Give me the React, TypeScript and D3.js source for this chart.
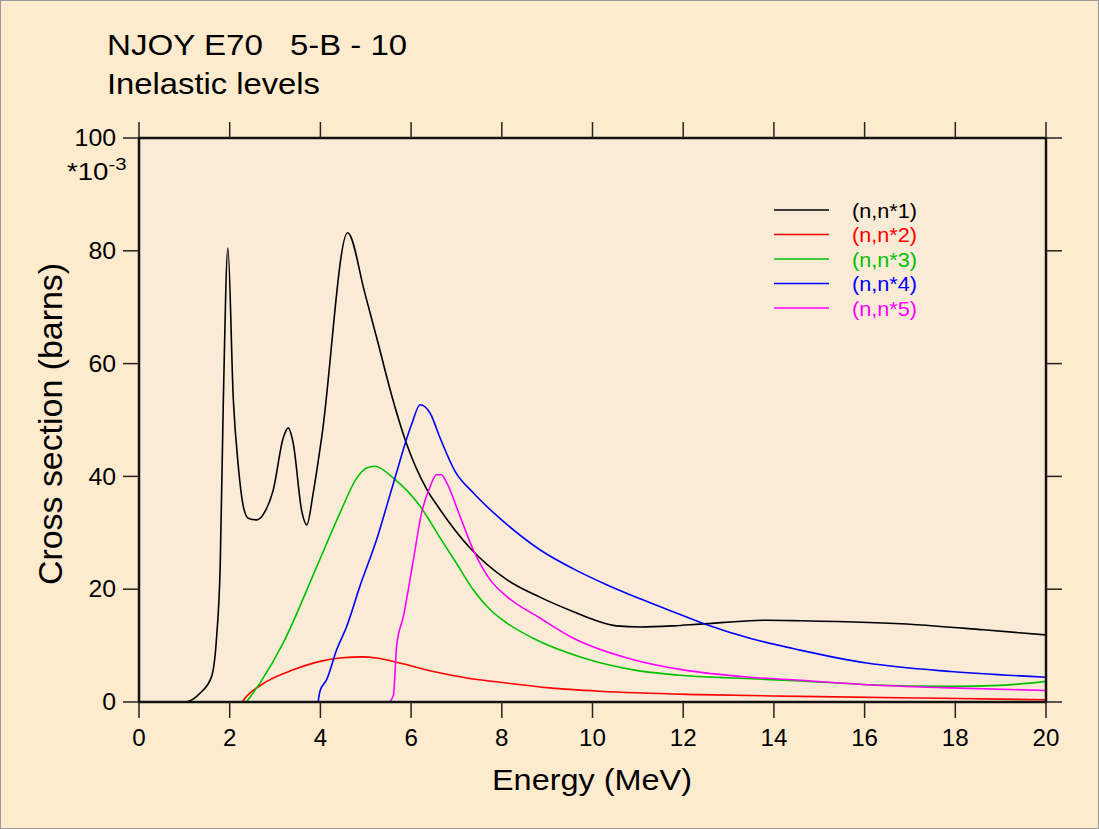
import { useMemo } from "react";
import * as d3 from "d3";

// ── Data (energy in MeV, cross section in 1e-3 barns) ─────────────────────────

const xTicks = [0, 2, 4, 6, 8, 10, 12, 14, 16, 18, 20];
const yTicks = [0, 20, 40, 60, 80, 100];

const level1: [number, number][] = [
  [0, 0], [1.0, 0], [1.35, 1.6], [1.6, 4.5], [1.71, 11.4], [1.79, 24], [1.86, 53.6],
  [1.96, 80.5], [2.08, 53.6], [2.19, 41.8], [2.3, 34.7], [2.41, 32.6], [2.6, 32.3],
  [2.78, 33.8], [2.96, 37.6], [3.18, 46.8], [3.29, 48.6], [3.4, 45.9], [3.59, 33.8],
  [3.7, 31.4], [3.84, 37], [4.03, 47], [4.6, 83.2], [4.98, 72.5], [5.28, 63.4],
  [5.53, 55.6], [5.9, 45.8], [6.34, 37.8], [6.64, 34.1], [7.3, 27.3], [8.11, 21.7],
  [8.84, 18.6], [9.58, 16.0], [10.09, 14.4], [10.53, 13.5], [11.05, 13.3],
  [11.78, 13.5], [12.37, 13.8], [13.84, 14.5], [14.58, 14.4], [17.15, 13.7],
  [18.62, 12.8], [20, 11.9],
];

const level2: [number, number][] = [
  [1.93, 0], [2.26, 0], [2.37, 1.0], [2.82, 3.65], [3.4, 5.7], [3.99, 7.2], [4.43, 7.8],
  [4.95, 8.0], [5.24, 7.8], [5.75, 6.9], [6.49, 5.4], [7.23, 4.25], [7.96, 3.5],
  [9.06, 2.5], [10.17, 1.9], [12.37, 1.3], [14.58, 1.0], [17.3, 0.7], [20, 0.4],
];

const level3: [number, number][] = [
  [2.37, 0], [2.67, 3.4], [3.18, 10.5], [3.92, 24], [4.43, 33.5], [4.8, 39.7],
  [5.02, 41.5], [5.2, 41.8], [5.61, 39.7], [6.2, 34.7], [6.64, 29.1], [7.0, 24.6],
  [7.37, 19.9], [7.74, 16.4], [8.11, 14], [8.69, 11.3], [9.8, 7.8], [10.9, 5.7],
  [12.0, 4.7], [13.1, 4.25], [14.58, 3.75], [16.05, 3.07], [17.9, 2.77], [18.99, 2.95],
  [20, 3.65],
];

const level4: [number, number][] = [
  [3.95, 0], [3.99, 1.9], [4.14, 4.0], [4.36, 9.3], [4.58, 13.4], [4.87, 20.5],
  [5.24, 28.8], [5.61, 38.8], [6.01, 49.2], [6.2, 52.7], [6.42, 51.2], [6.64, 46.8],
  [6.97, 40.9], [7.37, 37.1], [8.11, 31.5], [8.84, 27.0], [9.58, 23.6], [10.31, 20.8],
  [11.05, 18.3], [11.78, 16.0], [12.52, 13.7], [13.47, 11.3], [14.58, 9.2],
  [16.05, 6.9], [17.9, 5.4], [20, 4.4],
];

const level5: [number, number][] = [
  [5.27, 0], [5.5, 0], [5.61, 1.2], [5.68, 9.9], [5.83, 15.2], [6.05, 25.2],
  [6.23, 33.5], [6.42, 38.2], [6.56, 40.3], [6.67, 40.3], [6.79, 38.8], [7.08, 32.9],
  [7.37, 27], [7.74, 21.7], [8.11, 18.7], [8.84, 14.9], [9.58, 11.3], [10.9, 7.5],
  [12.0, 5.7], [13.47, 4.4], [14.58, 3.85], [16.05, 3.07], [17.9, 2.5], [20, 2.05],
];

const seriesNames = ["(n,n*1)", "(n,n*2)", "(n,n*3)", "(n,n*4)", "(n,n*5)"];
const seriesColours = ["#000000", "#ff0000", "#00c000", "#0000ff", "#ff00ff"];
const seriesData = [level1, level2, level3, level4, level5];

// ── Layout ────────────────────────────────────────────────────────────────────

const W = 1099;
const H = 829;
const PLOT = { left: 139, right: 1046, top: 138, bottom: 702 };
const FONT = "'Liberation Sans', Arial, Helvetica, sans-serif";
const TICK = 16;

export default function App() {
  const x = useMemo(
    () => d3.scaleLinear().domain([0, 20]).range([PLOT.left, PLOT.right]),
    []
  );
  const y = useMemo(
    () => d3.scaleLinear().domain([0, 100]).range([PLOT.bottom, PLOT.top]),
    []
  );

  const line = d3
    .line<[number, number]>()
    .x((d) => x(d[0]))
    .y((d) => y(d[1]))
    .curve(d3.curveMonotoneX);

  return (
    <div style={{ position: "absolute", left: 0, top: 0 }}>
      <svg width={W} height={H} style={{ display: "block" }} fontFamily={FONT}>
        {/* Page background */}
        <rect x={0} y={0} width={W} height={H} fill="#feebcd" />
        <rect x={0.5} y={0.5} width={W - 1} height={H - 1} fill="none" stroke="#9a9a9a" />

        {/* Title */}
        <text x={107} y={55} fontSize={29} fill="#000" textLength={156} lengthAdjust="spacingAndGlyphs">
          NJOY E70
        </text>
        <text x={290} y={55} fontSize={29} fill="#000" textLength={117} lengthAdjust="spacingAndGlyphs">
          5-B - 10
        </text>
        <text x={107} y={94} fontSize={29} fill="#000" textLength={213} lengthAdjust="spacingAndGlyphs">
          Inelastic levels
        </text>

        {/* Plot area */}
        <rect
          x={PLOT.left}
          y={PLOT.top}
          width={PLOT.right - PLOT.left}
          height={PLOT.bottom - PLOT.top}
          fill="#faebd7"
        />

        {/* Data lines */}
        <g fill="none" strokeWidth={1.6} strokeLinejoin="round">
          {seriesData.map((d, i) => (
            <path key={seriesNames[i]} d={line(d) ?? ""} stroke={seriesColours[i]} />
          ))}
        </g>

        {/* Frame */}
        <rect
          x={PLOT.left}
          y={PLOT.top}
          width={PLOT.right - PLOT.left}
          height={PLOT.bottom - PLOT.top}
          fill="none"
          stroke="#111"
          strokeWidth={2.5}
        />

        {/* Ticks, pointing outward on all four sides */}
        <g stroke="#222" strokeWidth={1.5}>
          {xTicks.map((t) => (
            <g key={`xt${t}`}>
              <line x1={x(t)} x2={x(t)} y1={PLOT.bottom} y2={PLOT.bottom + TICK} />
              <line x1={x(t)} x2={x(t)} y1={PLOT.top} y2={PLOT.top - TICK} />
            </g>
          ))}
          {yTicks.map((t) => (
            <g key={`yt${t}`}>
              <line x1={PLOT.left} x2={PLOT.left - TICK} y1={y(t)} y2={y(t)} />
              <line x1={PLOT.right} x2={PLOT.right + TICK} y1={y(t)} y2={y(t)} />
            </g>
          ))}
        </g>

        {/* Tick labels */}
        <g fontSize={23} fill="#000">
          {xTicks.map((t) => (
            <text
              key={`xl${t}`}
              transform={`translate(${x(t)},746) scale(1.05,1)`}
              textAnchor="middle"
            >
              {t}
            </text>
          ))}
          {yTicks.map((t) => (
            <text
              key={`yl${t}`}
              transform={`translate(${PLOT.left - 23},${y(t)}) scale(1.08,1)`}
              dy="0.36em"
              textAnchor="end"
            >
              {t}
            </text>
          ))}
        </g>
        <text transform="translate(67,180) scale(1.2,1)" fontSize={23} fill="#000">
          *10
          <tspan fontSize={17} dy={-10}>
            -3
          </tspan>
        </text>

        {/* Axis titles */}
        <text
          x={592}
          y={790}
          fontSize={30}
          textAnchor="middle"
          fill="#000"
          textLength={200}
          lengthAdjust="spacingAndGlyphs"
        >
          Energy (MeV)
        </text>
        <text
          transform={`translate(62,424) rotate(-90)`}
          fontSize={34}
          textAnchor="middle"
          fill="#000"
          textLength={322}
          lengthAdjust="spacingAndGlyphs"
        >
          Cross section (barns)
        </text>

        {/* Legend */}
        {seriesNames.map((name, i) => {
          const ly = 210 + i * 24.5;
          return (
            <g key={`lg${name}`}>
              <line x1={774} x2={829} y1={ly} y2={ly} stroke={seriesColours[i]} strokeWidth={1.6} />
              <text
                x={852}
                y={ly}
                dy="0.36em"
                fontSize={21}
                fill={seriesColours[i]}
                textLength={65}
                lengthAdjust="spacingAndGlyphs"
              >
                {name}
              </text>
            </g>
          );
        })}
      </svg>
    </div>
  );
}
